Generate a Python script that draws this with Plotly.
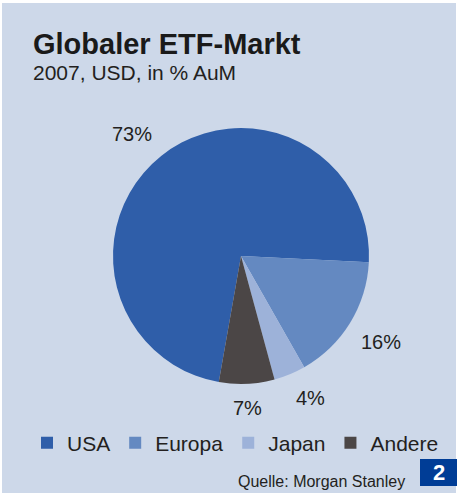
import math
import plotly.graph_objects as go

labels = ["USA", "Europa", "Japan", "Andere"]
values = [73, 16, 4, 7]
colors = ["#2f5ea9", "#6489c1", "#9db2d9", "#4b4646"]
start_angle = 190  # degrees, clockwise from 12 o'clock

W, H = 458, 495
BG = "#cdd8e9"
FONT = "Liberation Sans, Arial, sans-serif"

def px(x):
    return x / W

def py(y):
    return 1 - y / H

# pie geometry in pixels
CX, CY, R = 241, 256, 128

fig = go.Figure()
fig.add_trace(go.Pie(
    labels=labels,
    values=values,
    sort=False,
    direction="clockwise",
    rotation=start_angle,
    marker=dict(colors=colors, line=dict(width=0)),
    textinfo="none",
    hoverinfo="label+value",
    domain=dict(x=[px(CX - R), px(CX + R)], y=[py(CY + R), py(CY - R)]),
    showlegend=True,
))

# outside percentage labels derived from the values
annotations = []
total = sum(values)
acc = 0
for lab, v in zip(labels, values):
    mid = math.radians(start_angle + (acc + v / 2) / total * 360)
    acc += v
    dx, dy = math.sin(mid), -math.cos(mid)  # dy: screen-down positive
    rr = R + 11
    xa = "left" if dx > 0.3 else ("right" if dx < -0.3 else "center")
    ya = "top" if dy > 0.3 else ("bottom" if dy < -0.3 else "middle")
    annotations.append(dict(
        text=f"{v}%", xref="paper", yref="paper",
        x=px(CX + rr * dx), y=py(CY + rr * dy),
        xanchor=xa, yanchor=ya, showarrow=False,
        font=dict(size=20, color="#231f20", family=FONT),
    ))

annotations += [
    dict(text="<b>Globaler ETF-Markt</b>", xref="paper", yref="paper",
         x=px(31), y=py(44), xanchor="left", yanchor="middle", showarrow=False,
         font=dict(size=29, color="#1a1a1a", family=FONT)),
    dict(text="2007, USD, in % AuM", xref="paper", yref="paper",
         x=px(31), y=py(72), xanchor="left", yanchor="middle", showarrow=False,
         font=dict(size=21, color="#231f20", family=FONT)),
    dict(text="Quelle: Morgan Stanley", xref="paper", yref="paper",
         x=px(407), y=py(481), xanchor="right", yanchor="middle", showarrow=False,
         font=dict(size=16, color="#231f20", family=FONT)),
    dict(text="<b>2</b>", xref="paper", yref="paper",
         x=px(438.5), y=py(472.5), xanchor="center", yanchor="middle", showarrow=False,
         font=dict(size=22, color="white", family=FONT)),
]

fig.update_layout(
    width=W, height=H,
    margin=dict(l=0, r=0, t=0, b=0),
    paper_bgcolor="white",
    plot_bgcolor=BG,
    font=dict(family=FONT, color="#231f20"),
    legend=dict(
        orientation="h",
        x=px(27), xanchor="left",
        y=py(443), yanchor="middle",
        font=dict(size=21, color="#231f20"),
        bgcolor="rgba(0,0,0,0)",
        itemwidth=30,
        traceorder="normal",
    ),
    shapes=[
        dict(type="rect", xref="paper", yref="paper",
             x0=px(2), x1=px(456), y0=py(493), y1=py(3),
             fillcolor=BG, line=dict(width=0), layer="below"),
        dict(type="rect", xref="paper", yref="paper",
             x0=px(420), x1=px(457), y0=py(486), y1=py(459),
             fillcolor="#003d96", line=dict(width=0), layer="below"),
    ],
    annotations=annotations,
)

fig.write_html("out.html", config={"displayModeBar": False},
               post_script="document.body.style.margin='0px';")
